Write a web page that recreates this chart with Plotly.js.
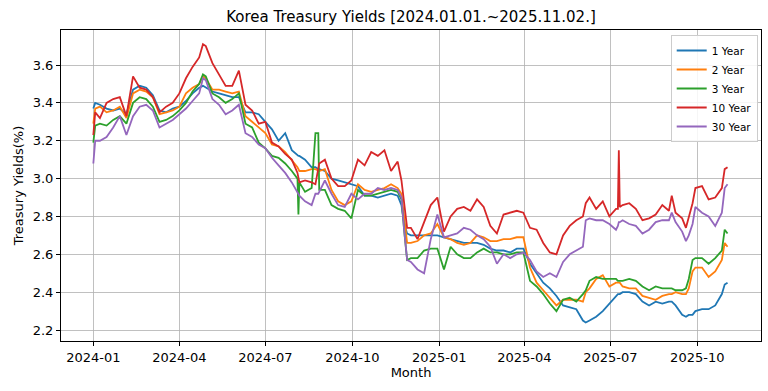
<!DOCTYPE html>
<html>
<head>
<meta charset="utf-8">
<script src="https://cdn.plot.ly/plotly-3.0.1.min.js"></script>
<style>html,body{margin:0;padding:0;background:#fff;}#chart{width:768px;height:391px;}</style>
</head>
<body>
<div id="chart"></div>
<script>
const dates = [
 "2024-01-01","2024-01-03","2024-01-08","2024-01-15","2024-01-22","2024-01-29","2024-02-05","2024-02-12","2024-02-19","2024-02-26",
 "2024-03-04","2024-03-11","2024-03-18","2024-03-25","2024-04-01","2024-04-08","2024-04-15","2024-04-22","2024-04-26","2024-04-29",
 "2024-05-06","2024-05-13","2024-05-20","2024-05-27","2024-06-03","2024-06-10","2024-06-17","2024-06-24","2024-07-01","2024-07-08",
 "2024-07-15","2024-07-22","2024-07-29","2024-08-04","2024-08-05","2024-08-06","2024-08-12","2024-08-19","2024-08-23","2024-08-26",
 "2024-08-27","2024-09-02","2024-09-09","2024-09-16","2024-09-23","2024-09-30","2024-10-07","2024-10-14","2024-10-21","2024-10-28",
 "2024-11-04","2024-11-11","2024-11-18","2024-11-22","2024-11-25","2024-11-28","2024-12-02","2024-12-09","2024-12-16","2024-12-23",
 "2024-12-30","2025-01-06","2025-01-13","2025-01-20","2025-01-27","2025-02-03","2025-02-10","2025-02-17","2025-02-24","2025-03-03",
 "2025-03-10","2025-03-17","2025-03-24","2025-03-31","2025-04-07","2025-04-14","2025-04-21","2025-04-28","2025-05-05","2025-05-12",
 "2025-05-19","2025-05-26","2025-06-02","2025-06-05","2025-06-09","2025-06-16","2025-06-23","2025-06-30","2025-07-07","2025-07-09",
 "2025-07-10","2025-07-11","2025-07-14","2025-07-21","2025-07-28","2025-08-04","2025-08-11","2025-08-18","2025-08-25","2025-09-01",
 "2025-09-04","2025-09-08","2025-09-15","2025-09-19","2025-09-22","2025-09-26","2025-09-29","2025-10-06","2025-10-13","2025-10-20",
 "2025-10-27","2025-10-30","2025-11-02"
];

const y1 = [
 3.37,3.40,3.39,3.37,3.36,3.37,3.34,3.47,3.49,3.48,
 3.44,3.36,3.35,3.37,3.38,3.41,3.45,3.48,3.49,3.48,
 3.46,3.45,3.44,3.43,3.43,3.35,3.35,3.34,3.30,3.26,
 3.20,3.24,3.15,3.12,3.12,3.12,3.10,3.06,3.06,3.05,
 3.05,3.04,3.00,2.99,2.98,2.97,2.96,2.91,2.91,2.90,
 2.91,2.92,2.91,2.86,2.76,2.71,2.70,2.70,2.70,2.70,
 2.70,2.69,2.68,2.67,2.66,2.66,2.66,2.65,2.63,2.62,
 2.62,2.61,2.63,2.63,2.55,2.50,2.45,2.42,2.38,2.33,
 2.32,2.31,2.25,2.24,2.25,2.27,2.30,2.34,2.38,2.39,
 2.39,2.39,2.40,2.40,2.39,2.35,2.33,2.35,2.34,2.35,
 2.35,2.33,2.28,2.27,2.28,2.28,2.30,2.31,2.31,2.33,
 2.39,2.44,2.45
];
const y2 = [
 3.29,3.37,3.38,3.35,3.36,3.38,3.32,3.45,3.47,3.46,
 3.43,3.34,3.35,3.36,3.38,3.45,3.48,3.50,3.54,3.53,
 3.47,3.47,3.46,3.45,3.46,3.33,3.30,3.27,3.24,3.18,
 3.17,3.14,3.10,3.06,3.05,3.04,3.04,3.05,3.05,3.04,
 3.04,3.05,2.94,2.88,2.86,2.88,2.97,2.94,2.93,2.94,
 2.95,2.97,2.95,2.92,2.80,2.66,2.66,2.67,2.70,2.71,
 2.76,2.69,2.68,2.66,2.65,2.66,2.70,2.69,2.67,2.67,
 2.68,2.68,2.69,2.69,2.53,2.45,2.41,2.37,2.33,2.36,
 2.36,2.36,2.35,2.40,2.42,2.47,2.49,2.43,2.45,2.45,
 2.45,2.45,2.43,2.42,2.42,2.38,2.37,2.36,2.38,2.39,
 2.39,2.40,2.39,2.39,2.42,2.51,2.53,2.53,2.48,2.51,
 2.57,2.66,2.64
];
const y3 = [
 3.19,3.28,3.29,3.28,3.31,3.33,3.29,3.40,3.43,3.42,
 3.38,3.30,3.31,3.33,3.36,3.40,3.46,3.50,3.55,3.54,
 3.45,3.43,3.40,3.42,3.45,3.29,3.27,3.19,3.16,3.12,
 3.11,3.08,3.04,3.00,2.81,2.98,2.93,2.95,3.24,3.24,
 2.94,2.94,2.86,2.84,2.83,2.79,2.94,2.91,2.91,2.92,
 2.93,2.94,2.93,2.89,2.72,2.57,2.58,2.58,2.62,2.63,
 2.63,2.52,2.64,2.60,2.58,2.58,2.61,2.63,2.61,2.61,
 2.60,2.60,2.61,2.61,2.46,2.43,2.39,2.34,2.30,2.36,
 2.37,2.35,2.39,2.41,2.46,2.48,2.47,2.47,2.47,2.46,
 2.46,2.46,2.46,2.47,2.46,2.43,2.41,2.43,2.42,2.42,
 2.42,2.41,2.41,2.42,2.47,2.57,2.58,2.58,2.55,2.58,
 2.62,2.73,2.71
];
const y10 = [
 3.23,3.35,3.32,3.40,3.42,3.43,3.33,3.54,3.48,3.47,
 3.43,3.35,3.38,3.40,3.45,3.53,3.59,3.64,3.71,3.70,
 3.61,3.55,3.49,3.49,3.57,3.39,3.36,3.29,3.30,3.19,
 3.17,3.13,3.10,3.03,3.00,2.98,2.99,2.98,2.97,3.07,
 3.08,3.10,3.00,2.96,2.96,2.99,3.10,3.07,3.14,3.12,
 3.15,3.04,3.09,2.99,2.86,2.74,2.74,2.68,2.77,2.86,
 2.90,2.72,2.80,2.84,2.85,2.83,2.89,2.85,2.75,2.71,
 2.81,2.82,2.83,2.82,2.74,2.73,2.66,2.61,2.60,2.70,
 2.75,2.78,2.80,2.87,2.90,2.84,2.88,2.80,2.84,2.84,
 3.15,2.85,2.86,2.87,2.84,2.78,2.79,2.81,2.86,2.83,
 2.91,2.82,2.79,2.74,2.80,2.87,2.95,2.96,2.89,2.90,
 2.95,3.05,3.06
];
const y30 = [
 3.08,3.20,3.20,3.22,3.27,3.33,3.23,3.33,3.38,3.39,
 3.36,3.27,3.29,3.31,3.34,3.37,3.41,3.45,3.53,3.52,
 3.42,3.39,3.34,3.36,3.39,3.24,3.22,3.18,3.16,3.11,
 3.07,3.03,2.98,2.93,2.92,2.91,2.88,2.86,2.92,2.92,
 2.93,2.99,2.92,2.86,2.85,2.92,2.89,2.92,2.92,2.95,
 2.94,2.95,2.94,2.90,2.72,2.57,2.56,2.52,2.50,2.68,
 2.81,2.69,2.70,2.71,2.74,2.73,2.70,2.68,2.64,2.55,
 2.60,2.58,2.60,2.61,2.57,2.51,2.48,2.50,2.48,2.56,
 2.60,2.62,2.64,2.78,2.79,2.78,2.78,2.76,2.73,2.75,
 2.77,2.77,2.78,2.76,2.75,2.71,2.73,2.77,2.78,2.78,
 2.82,2.77,2.72,2.67,2.70,2.76,2.85,2.82,2.80,2.75,
 2.82,2.95,2.97
];

const seriesNames = ["1 Year","2 Year","3 Year","10 Year","30 Year"];
const seriesValues = [y1, y2, y3, y10, y30];
const colors = ["#1f77b4","#ff7f0e","#2ca02c","#d62728","#9467bd"];

const tickDates = ["2024-01-01","2024-04-01","2024-07-01","2024-10-01","2025-01-01","2025-04-01","2025-07-01","2025-10-01"];
const tickLabels = ["2024-01","2024-04","2024-07","2024-10","2025-01","2025-04","2025-07","2025-10"];
const yTicks = [2.2,2.4,2.6,2.8,3.0,3.2,3.4,3.6];

const traces = seriesNames.map((n,i)=>({
  x: dates, y: seriesValues[i], name: n, type: "scatter", mode: "lines",
  line: {color: colors[i], width: 1.8}
}));

const font = "DejaVu Sans, sans-serif";
const layout = {
  width: 768, height: 391,
  margin: {l: 61, r: 7, t: 30, b: 50},
  paper_bgcolor: "#fff", plot_bgcolor: "#fff",
  font: {family: font, color: "#000", size: 13},
  title: {text: "Korea Treasury Yields [2024.01.01.~2025.11.02.]", font: {size: 15, family: font, color:"#000"},
          xref: "paper", x: 0.5, xanchor: "center", yref: "container", y: 1 - 17/391, yanchor: "middle"},
  xaxis: {
    type: "date", range: ["2023-11-27 19:00", "2025-12-07 10:00"],
    tickvals: tickDates, ticktext: tickLabels,
    showgrid: true, gridcolor: "#b0b0b0", gridwidth: 0.8,
    showline: true, linecolor: "#000", linewidth: 1, mirror: true,
    ticks: "outside", ticklen: 4, tickcolor: "#000", tickwidth: 1,
    tickfont: {size: 13, family: font, color: "#000"},
    zeroline: false,
    title: {text: "Month", font: {size: 13, family: font, color:"#000"}, standoff: 4}
  },
  yaxis: {
    range: [2.142, 3.785],
    tickvals: yTicks, ticktext: yTicks.map(v=>v.toFixed(1)),
    showgrid: true, gridcolor: "#b0b0b0", gridwidth: 0.8,
    showline: true, linecolor: "#000", linewidth: 1, mirror: true,
    ticks: "outside", ticklen: 4, tickcolor: "#000", tickwidth: 1,
    tickfont: {size: 13, family: font, color: "#000"},
    zeroline: false,
    title: {text: "Treasury Yields(%)", font: {size: 13, family: font, color:"#000"}, standoff: 6}
  },
  legend: {
    x: 0.9953, xanchor: "right", y: 0.984, yanchor: "top",
    bgcolor: "rgba(255,255,255,0.85)", bordercolor: "#cccccc", borderwidth: 1,
    font: {size: 10.5, family: font, color: "#000"},
    tracegroupgap: 0
  },
  showlegend: true
};

Plotly.newPlot("chart", traces, layout, {displayModeBar: false, staticPlot: true});
</script>
</body>
</html>
